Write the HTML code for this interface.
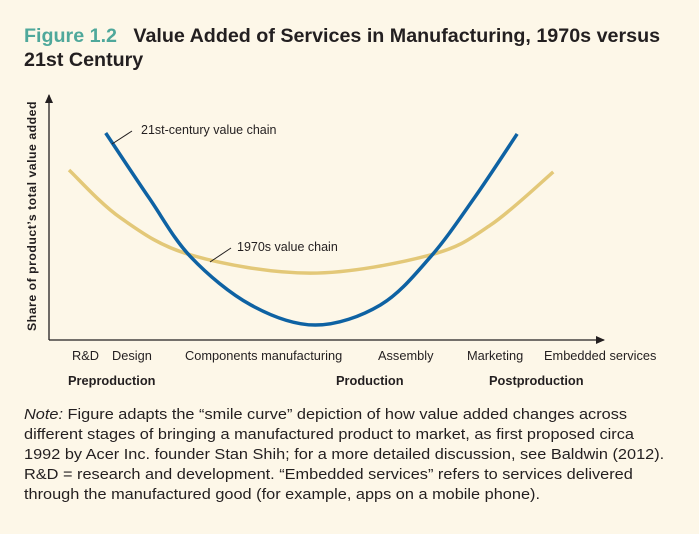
<!DOCTYPE html>
<html><head><meta charset="utf-8"><style>
html,body{margin:0;padding:0;background:#fdf7e8;}
body{width:699px;height:534px;position:relative;overflow:hidden;font-family:"Liberation Sans",Arial,sans-serif;color:#231f20;}
.t{position:absolute;white-space:nowrap;}
</style></head><body>
<div class="t" style="left:24px;top:24px;font-size:19.7px;font-weight:bold;line-height:24px;"><span style="color:#4fa89b;">Figure 1.2</span>&nbsp;&nbsp; Value Added of Services in Manufacturing, 1970s versus<br>21st Century</div>
<svg width="699" height="534" style="position:absolute;left:0;top:0" id="chart">
<defs><marker id="ar" markerWidth="10" markerHeight="10" refX="8" refY="5" orient="auto" markerUnits="userSpaceOnUse"><path d="M0,1 L9,5 L0,9 Z" fill="#231f20"/></marker></defs>
<line x1="49" y1="340" x2="49" y2="95" stroke="#231f20" stroke-width="1.3" marker-end="url(#ar)"/>
<line x1="49" y1="340" x2="604" y2="340" stroke="#231f20" stroke-width="1.3" marker-end="url(#ar)"/>
<text transform="translate(36,216) rotate(-90)" text-anchor="middle" font-size="12.3" font-weight="bold" letter-spacing="0.5" fill="#231f20">Share of product’s total value added</text>
<g id="series"></g>
<line x1="112" y1="144" x2="132" y2="131" stroke="#231f20" stroke-width="1"/>
<text x="141" y="134" font-size="12.5" fill="#231f20">21st-century value chain</text>
<line x1="210" y1="262" x2="231" y2="248" stroke="#231f20" stroke-width="1"/>
<text x="237" y="251" font-size="12.5" fill="#231f20">1970s value chain</text>
</svg>
<div class="t" style="left:72px;top:348px;font-size:12.8px;">
<span style="position:absolute;left:0">R&amp;D</span><span style="position:absolute;left:40px">Design</span><span style="position:absolute;left:113px">Components manufacturing</span><span style="position:absolute;left:306px">Assembly</span><span style="position:absolute;left:395px">Marketing</span><span style="position:absolute;left:472px">Embedded services</span></div>
<div class="t" style="left:68px;top:373px;font-size:12.8px;font-weight:bold;">Preproduction</div>
<div class="t" style="left:336px;top:373px;font-size:12.8px;font-weight:bold;">Production</div>
<div class="t" style="left:489px;top:373px;font-size:12.8px;font-weight:bold;">Postproduction</div>
<div class="t" style="left:24px;top:405px;font-size:14.5px;line-height:20px;transform:scaleX(1.125);transform-origin:0 0;"><i>Note:</i> Figure adapts the “smile curve” depiction of how value added changes across<br>different stages of bringing a manufactured product to market, as first proposed circa<br>1992 by Acer Inc. founder Stan Shih; for a more detailed discussion, see Baldwin (2012).<br>R&amp;D = research and development. “Embedded services” refers to services delivered<br>through the manufactured good (for example, apps on a mobile phone).</div>
<script>
const stageX21 = [10.2, 18, 25.5, 36.3, 47.9, 59.6, 68.6, 76.5, 84.2];
const value21 = [84.5, 58, 33.9, 14.3, 6.1, 14.3, 33.9, 58, 84.1];
const stageX70 = [3.6, 12.9, 25.5, 47, 68.6, 79.4, 90.7];
const value70 = [69.4, 49.8, 34.7, 27.3, 34.7, 46.9, 68.6];
function xs(v){return 49+v*5.56;}
function ys(v){return 340-v*2.45;}
function path(xa,ya){
  const p=xa.map((x,i)=>[xs(x),ys(ya[i])]);
  let d='M'+p[0][0]+','+p[0][1];
  for(let i=0;i<p.length-1;i++){
    const p0=p[i-1]||p[i],p1=p[i],p2=p[i+1],p3=p[i+2]||p2;
    const c1=[p1[0]+(p2[0]-p0[0])/6,p1[1]+(p2[1]-p0[1])/6];
    const c2=[p2[0]-(p3[0]-p1[0])/6,p2[1]-(p3[1]-p1[1])/6];
    d+=' C'+c1+' '+c2+' '+p2;
  }
  return d;
}
const g=document.getElementById('series');
const ns='http://www.w3.org/2000/svg';
const a=document.createElementNS(ns,'path');
a.setAttribute('d',path(stageX70,value70));
a.setAttribute('fill','none');a.setAttribute('stroke','#e3c878');a.setAttribute('stroke-width','3.5');


g.appendChild(a);
const b=document.createElementNS(ns,'path');
b.setAttribute('d',path(stageX21,value21));
b.setAttribute('fill','none');b.setAttribute('stroke','#0e62a3');b.setAttribute('stroke-width','3.5');


g.appendChild(b);
</script>
</body></html>
